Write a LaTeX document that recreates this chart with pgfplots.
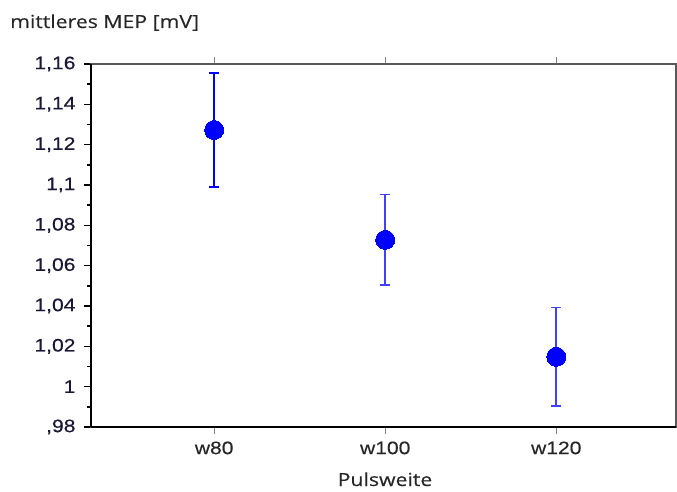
\documentclass[border=0pt]{standalone}
\usepackage{fontspec}
\setmainfont{Liberation Sans}[FakeStretch=1.17, FakeBold=0.4]
\newfontfamily\segoe{Open Sans}[FakeStretch=1.18, FakeBold=0.3]
\usepackage{pgfplots}
\pgfplotsset{compat=1.18}
\definecolor{tickblue}{RGB}{25,25,55}
\begin{document}
\begin{tikzpicture}[x=1pt,y=1pt]
\begin{axis}[
  at={(0,0)}, anchor=south west,
  scale only axis, width=585pt, height=363pt,
  xmin=-0.72, xmax=2.7,
  ymin=0.98, ymax=1.16,
  xtick={0,1,2},
  xticklabels={w80,w100,w120},
  ytick={0.98,1.00,1.02,1.04,1.06,1.08,1.10,1.12,1.14,1.16},
  yticklabels={{\mbox{,98}},{\mbox{1}},{\mbox{1,02}},{\mbox{1,04}},{\mbox{1,06}},{\mbox{1,08}},{\mbox{1,1}},{\mbox{1,12}},{\mbox{1,14}},{\mbox{1,16}}},
  minor y tick num=1,
  ytick pos=left, xtick pos=both,
  tick align=outside,
  major tick length=7pt, minor tick length=4pt,
  x tick style={line width=1.2pt},
  y tick style={line width=1.2pt, black},
  minor y tick style={line width=1.8pt},
  ticklabel style={font=\fontsize{18}{18}\selectfont, text=tickblue},
  yticklabel style={xshift=-5pt},
  xticklabel style={yshift=-4pt, text=black!85},
  axis line style={line width=1.2pt, black!65},
  clip=false,
]
\draw[black, line width=1.5pt] (rel axis cs:0,0) -- (rel axis cs:1,0);
\draw[black, line width=1.2pt] (rel axis cs:0,0) -- (rel axis cs:0,1);
\addplot[blue, line width=2.6pt, mark=*, mark size=9.5pt, mark options={line width=0pt, fill=blue},
  error bars/.cd, y dir=both, y explicit,
  error bar style={line width=2.6pt, blue},
  error mark options={rotate=90, mark size=5pt, line width=2.6pt, blue}]
  coordinates {(0,1.1273) +- (0,0.0283)};
\addplot[blue!75, only marks, mark=*, mark size=9.5pt, mark options={line width=0pt, fill=blue, draw=blue},
  error bars/.cd, y dir=both, y explicit,
  error bar style={line width=1.6pt, blue!75},
  error mark options={rotate=90, mark size=5pt, line width=1.6pt, blue!75}]
  coordinates {(1,1.0728) +- (0,0.0225) (2,1.0148) +- (0,0.0245)};
\end{axis}
\node[anchor=base west, font=\segoe\fontsize{18}{18}\selectfont, text=black!85, inner sep=0pt] at (-81,399) {mittleres MEP [mV]};
\node[anchor=base, font=\segoe\fontsize{18}{18}\selectfont, text=black!85, inner sep=0pt] at (294,-59) {Pulsweite};
\pgfresetboundingbox
\path[use as bounding box] (-91,-64) rectangle (586,427);
\end{tikzpicture}
\end{document}
